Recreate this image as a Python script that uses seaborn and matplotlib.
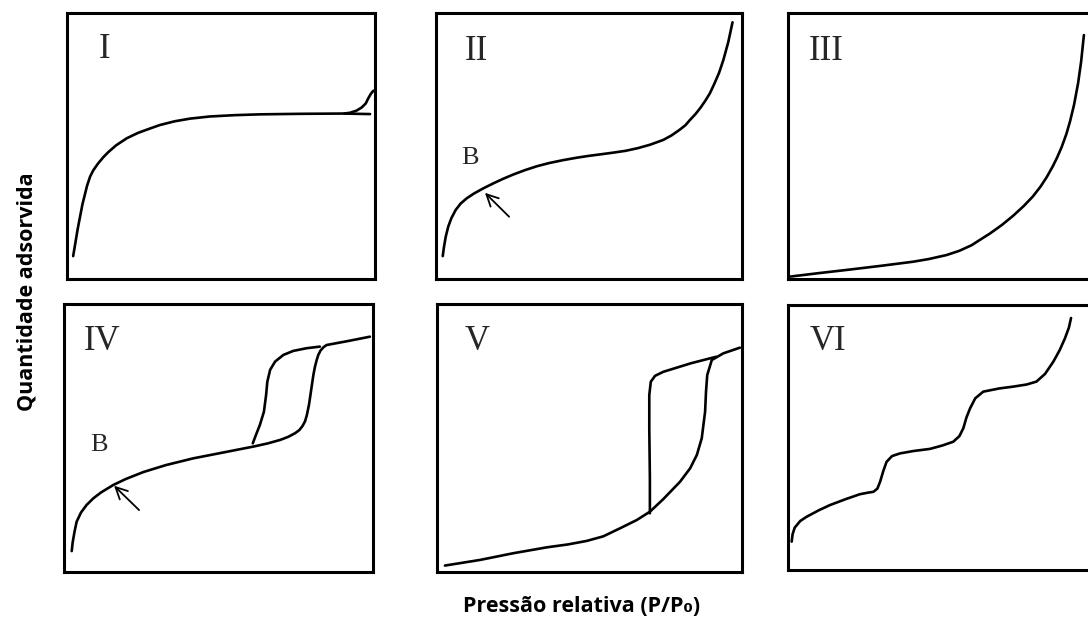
import matplotlib
matplotlib.use("Agg")
import matplotlib.pyplot as plt
import seaborn as sns
import pandas as pd

# Relative pressure (P/P0) and adsorbed amount, normalised to each panel
type1_x = [0.020, 0.035, 0.050, 0.065, 0.075, 0.085, 0.100, 0.118, 0.135, 0.160, 0.194, 0.230, 0.270, 0.302, 0.350, 0.400, 0.464, 0.545, 0.627, 0.760, 0.897, 0.984]
type1_y = [0.086, 0.190, 0.280, 0.350, 0.385, 0.408, 0.433, 0.458, 0.478, 0.503, 0.529, 0.549, 0.566, 0.579, 0.593, 0.603, 0.611, 0.616, 0.619, 0.621, 0.622, 0.620]
type1_step_x = [0.900, 0.919, 0.940, 0.957, 0.970, 0.978, 0.987, 0.995]
type1_step_y = [0.622, 0.625, 0.633, 0.645, 0.660, 0.679, 0.697, 0.708]

type2_x = [0.022, 0.026, 0.032, 0.040, 0.050, 0.064, 0.080, 0.100, 0.125, 0.155, 0.190, 0.220, 0.253, 0.290, 0.330, 0.370, 0.416, 0.460, 0.500, 0.540, 0.579, 0.620, 0.660, 0.700, 0.743, 0.770, 0.795, 0.815, 0.830, 0.848, 0.865, 0.880, 0.895, 0.910, 0.925, 0.939, 0.955, 0.969]
type2_y = [0.086, 0.120, 0.160, 0.197, 0.228, 0.259, 0.283, 0.303, 0.322, 0.341, 0.361, 0.377, 0.393, 0.409, 0.424, 0.436, 0.447, 0.456, 0.463, 0.469, 0.475, 0.482, 0.492, 0.505, 0.523, 0.540, 0.560, 0.578, 0.598, 0.620, 0.645, 0.670, 0.698, 0.735, 0.775, 0.823, 0.890, 0.965]

type3_x = [0.007, 0.100, 0.191, 0.300, 0.409, 0.460, 0.518, 0.560, 0.600, 0.627, 0.660, 0.700, 0.736, 0.770, 0.800, 0.825, 0.845, 0.865, 0.880, 0.895, 0.910, 0.922, 0.935, 0.948, 0.958, 0.967]
type3_y = [0.009, 0.022, 0.034, 0.049, 0.065, 0.075, 0.090, 0.106, 0.127, 0.147, 0.171, 0.204, 0.238, 0.274, 0.310, 0.347, 0.382, 0.423, 0.458, 0.498, 0.546, 0.594, 0.656, 0.736, 0.818, 0.917]

type4_ads_x = [0.025, 0.028, 0.034, 0.041, 0.055, 0.073, 0.095, 0.120, 0.160, 0.200, 0.257, 0.330, 0.418, 0.520, 0.613, 0.660, 0.700, 0.725, 0.748, 0.762, 0.772, 0.780, 0.786, 0.793, 0.800, 0.807, 0.812, 0.818, 0.823, 0.830, 0.840, 0.850, 0.920, 0.990]
type4_ads_y = [0.078, 0.110, 0.150, 0.188, 0.222, 0.250, 0.275, 0.297, 0.325, 0.347, 0.373, 0.399, 0.424, 0.447, 0.468, 0.480, 0.493, 0.504, 0.518, 0.530, 0.545, 0.562, 0.586, 0.625, 0.680, 0.735, 0.765, 0.792, 0.810, 0.826, 0.839, 0.847, 0.862, 0.878]
type4_des_x = [0.828, 0.785, 0.742, 0.710, 0.683, 0.667, 0.658, 0.654, 0.647, 0.634, 0.621, 0.611]
type4_des_y = [0.841, 0.835, 0.825, 0.810, 0.785, 0.754, 0.710, 0.660, 0.598, 0.549, 0.511, 0.480]

type5_ads_x = [0.026, 0.141, 0.250, 0.360, 0.430, 0.491, 0.545, 0.600, 0.655, 0.698, 0.742, 0.797, 0.830, 0.852, 0.868, 0.879, 0.882, 0.886, 0.901, 0.939, 0.993]
type5_ads_y = [0.024, 0.045, 0.070, 0.092, 0.103, 0.116, 0.133, 0.163, 0.194, 0.225, 0.272, 0.337, 0.387, 0.437, 0.499, 0.598, 0.673, 0.735, 0.791, 0.816, 0.837]
type5_des_x = [0.915, 0.833, 0.742, 0.715, 0.701, 0.696, 0.696, 0.698, 0.698]
type5_des_y = [0.803, 0.779, 0.747, 0.732, 0.710, 0.660, 0.536, 0.350, 0.219]

type6_x = [0.012, 0.015, 0.022, 0.040, 0.061, 0.100, 0.137, 0.190, 0.235, 0.262, 0.279, 0.292, 0.301, 0.311, 0.322, 0.340, 0.366, 0.410, 0.464, 0.505, 0.540, 0.560, 0.573, 0.583, 0.595, 0.612, 0.638, 0.690, 0.736, 0.780, 0.812, 0.840, 0.867, 0.888, 0.905, 0.918, 0.925]
type6_y = [0.107, 0.135, 0.160, 0.185, 0.201, 0.225, 0.245, 0.268, 0.286, 0.292, 0.295, 0.307, 0.333, 0.372, 0.408, 0.430, 0.440, 0.449, 0.457, 0.470, 0.484, 0.505, 0.535, 0.575, 0.610, 0.648, 0.673, 0.685, 0.692, 0.700, 0.711, 0.740, 0.786, 0.830, 0.874, 0.915, 0.951]

panel_labels = ["I", "II", "III", "IV", "V", "VI"]
point_b_label = "B"
y_title = "Quantidade adsorvida"
x_title = "Pressão relativa (P/P\u2080)"

sns.set_theme(style="white")
plt.rcParams["font.family"] = ["Open Sans", "DejaVu Sans"]

W, H = 1088, 625
fig = plt.figure(figsize=(W / 100, H / 100), dpi=100)
fig.patch.set_facecolor("white")

# panel boxes in pixels: left, top, right, bottom
boxes = [(67, 13, 375, 279), (436, 13, 742, 279), (788, 13, 1094, 279),
         (64, 304, 373, 572), (437, 304, 742, 572), (788, 305, 1094, 570)]

curves = [
    [(type1_x, type1_y), (type1_step_x, type1_step_y)],
    [(type2_x, type2_y)],
    [(type3_x, type3_y)],
    [(type4_ads_x, type4_ads_y), (type4_des_x, type4_des_y)],
    [(type5_ads_x, type5_ads_y), (type5_des_x, type5_des_y)],
    [(type6_x, type6_y)],
]
label_pos = [(0.123, 0.861), (0.131, 0.857), (0.126, 0.855),
             (0.122, 0.859), (0.130, 0.859), (0.132, 0.862)]

axes = []
for i, (l, t, r, b) in enumerate(boxes):
    ax = fig.add_axes([l / W, 1 - b / H, (r - l) / W, (b - t) / H])
    for xs, ys in curves[i]:
        df = pd.DataFrame({"p": xs, "q": ys})
        sns.lineplot(data=df, x="p", y="q", ax=ax, sort=False, estimator=None,
                     color="black", linewidth=1.9, solid_joinstyle="round",
                     solid_capstyle="round")
    ax.set_xlim(0, 1)
    ax.set_ylim(0, 1)
    ax.set_xticks([])
    ax.set_yticks([])
    ax.set_xlabel("")
    ax.set_ylabel("")
    for s in ax.spines.values():
        s.set_visible(True)
        s.set_color("black")
        s.set_linewidth(2.2)
    ax.text(*label_pos[i], panel_labels[i], transform=ax.transAxes,
            ha="center", va="center", fontsize=25, family="Liberation Serif")
    axes.append(ax)

# BET point B with arrow on types II and IV
for ax, bpos, head, tail in [(axes[1], (0.111, 0.454), (0.160, 0.324), (0.239, 0.234)),
                             (axes[3], (0.112, 0.474), (0.162, 0.322), (0.243, 0.231))]:
    ax.text(*bpos, point_b_label, transform=ax.transAxes, ha="center",
            va="center", fontsize=19, family="Liberation Serif")
    ax.annotate("", xy=head, xytext=tail, xycoords="axes fraction",
                textcoords="axes fraction",
                arrowprops=dict(arrowstyle="->,head_length=0.7,head_width=0.35",
                                color="black", lw=1.3, shrinkA=0, shrinkB=0))

fig.text(27 / W, 1 - 292 / H, y_title, rotation=90, ha="center", va="center",
         fontsize=15.5, fontweight="bold", color="black")
fig.text(582 / W, 1 - 607 / H, x_title, ha="center", va="center",
         fontsize=15.5, fontweight="bold", color="black")

fig.savefig("out.png", dpi=100, facecolor="white")
